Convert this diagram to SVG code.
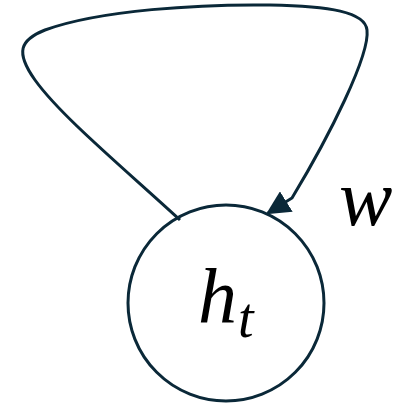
<svg xmlns="http://www.w3.org/2000/svg" width="393" height="408" viewBox="0 0 393 408">
<style>
.ln{fill:none;stroke:#0a2838;stroke-width:3}
.tx{font-family:"Liberation Serif","DejaVu Serif",serif;font-style:italic;fill:#000}
</style>
<defs>
<marker id="ah" viewBox="0 0 10 10" refX="9" refY="5" markerWidth="8" markerHeight="8" markerUnits="strokeWidth" orient="auto">
<path d="M0,0 L10,5 L0,10 z" fill="#0a2838"/>
</marker>
</defs>
<rect width="393" height="408" fill="#fff"/>
<g id="connectors">
<path class="ln" d="M180,220 C120,165 60,115 35,80 C15,52 20,40 45,30 C100,10 200,4 270,5 C330,6 365,12 367,30 C370,55 330,135 292,198 L268,213" marker-end="url(#ah)"/>
</g>
<g id="node-ht">
<circle class="ln" cx="226" cy="303" r="98"/>
<text class="tx" x="198" y="323" font-size="78">h</text>
<text class="tx" x="238" y="337" font-size="56">t</text>
</g>
<g id="label-w">
<text class="tx" x="339" y="225" font-size="80">w</text>
</g>
</svg>
